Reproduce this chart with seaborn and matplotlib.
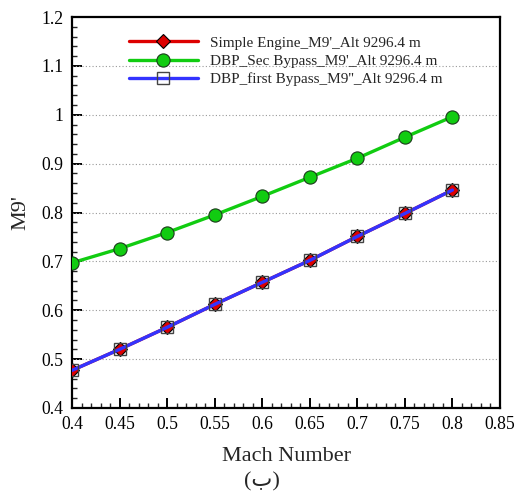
import matplotlib
matplotlib.use("Agg")
import matplotlib.pyplot as plt
import seaborn as sns
import pandas as pd
from matplotlib.ticker import MultipleLocator, FixedLocator

mach = [0.4, 0.45, 0.5, 0.55, 0.6, 0.65, 0.7, 0.75, 0.8]
simple_engine = [0.477, 0.520, 0.565, 0.612, 0.657, 0.702, 0.751, 0.798, 0.846]
dbp_sec = [0.697, 0.726, 0.759, 0.795, 0.833, 0.872, 0.911, 0.954, 0.996]
dbp_first = [0.477, 0.520, 0.565, 0.612, 0.657, 0.702, 0.751, 0.798, 0.846]

labels = ["Simple Engine_M9'_Alt 9296.4 m",
          "DBP_Sec Bypass_M9'_Alt 9296.4 m",
          "DBP_first Bypass_M9''_Alt 9296.4 m"]
x_ticks = [0.4, 0.45, 0.5, 0.55, 0.6, 0.65, 0.7, 0.75, 0.8, 0.85]
x_tick_labels = ["0.4", "0.45", "0.5", "0.55", "0.6", "0.65", "0.7", "0.75", "0.8", "0.85"]
y_ticks = [0.4, 0.5, 0.6, 0.7, 0.8, 0.9, 1.0, 1.1, 1.2]
y_tick_labels = ["0.4", "0.5", "0.6", "0.7", "0.8", "0.9", "1", "1.1", "1.2"]

sns.set_style("ticks")
plt.rcParams['font.family'] = ['Liberation Serif', 'DejaVu Sans']
plt.rcParams['mathtext.fontset'] = 'stix'

fig = plt.figure(figsize=(5.18, 4.95), dpi=100)
ax = fig.add_axes([72/518, 1 - 408/495, (500-72)/518, (408-17)/495])

df = pd.DataFrame({"mach": mach, "se": simple_engine, "sec": dbp_sec, "first": dbp_first})

sns.lineplot(data=df, x="mach", y="se", ax=ax, color="#dd0000", lw=2.4,
             marker="D", markersize=7.5, markerfacecolor="#dd0000",
             markeredgecolor="black", markeredgewidth=0.8, label=labels[0], zorder=3)
sns.lineplot(data=df, x="mach", y="sec", ax=ax, color="#11cc11", lw=2.4,
             marker="o", markersize=9.5, markerfacecolor="#11cc11",
             markeredgecolor="#1a3a1a", markeredgewidth=0.8, label=labels[1], zorder=3)
sns.lineplot(data=df, x="mach", y="first", ax=ax, color="#3333ff", lw=2.4,
             marker="s", markersize=9, markerfacecolor="none",
             markeredgecolor="#444444", markeredgewidth=1.0, label=labels[2], zorder=4)

ax.set_xlim(0.4, 0.85)
ax.set_ylim(0.4, 1.2)
ax.xaxis.set_major_locator(FixedLocator(x_ticks))
ax.set_xticklabels(x_tick_labels)
ax.yaxis.set_major_locator(FixedLocator(y_ticks))
ax.set_yticklabels(y_tick_labels)
ax.xaxis.set_minor_locator(MultipleLocator(0.01))
ax.yaxis.set_minor_locator(MultipleLocator(0.02))
ax.tick_params(which='major', direction='in', length=7, width=1.4, labelsize=12.7,
               colors='black')
ax.tick_params(which='minor', direction='in', length=3.6, width=1.0)
ax.tick_params(axis='x', which='major', pad=6)
ax.tick_params(axis='y', which='major', pad=6)

for s in ax.spines.values():
    s.set_visible(True)
    s.set_linewidth(1.6)
    s.set_color('black')

ax.grid(False)
for yv in [0.5, 0.6, 0.7, 0.8, 0.9, 1.0, 1.1]:
    ax.axhline(yv, color="#999999", lw=0.8, ls=(0, (1, 2)), zorder=1)

ax.set_xlabel("Mach Number", fontsize=16, labelpad=10)
ax.set_ylabel("M9'", fontsize=16, labelpad=8)

leg = ax.legend(loc='upper left', bbox_to_anchor=(0.119, 0.967), frameon=False,
                fontsize=11, handlelength=4.5, handletextpad=0.8, labelspacing=0.3,
                borderaxespad=0)

fig.text(262/518, 1 - 482/495, "(ب)", ha='center', va='center', fontsize=16,
         family=['Liberation Serif', 'DejaVu Sans'])

fig.savefig("out.png", dpi=100, facecolor='white')
